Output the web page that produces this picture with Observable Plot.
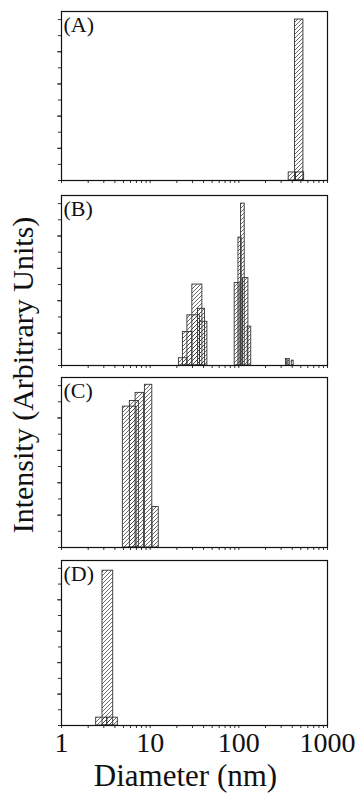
<!DOCTYPE html>
<html>
<head>
<meta charset="utf-8">
<script src="https://cdn.jsdelivr.net/npm/d3@7"></script>
<script src="https://cdn.jsdelivr.net/npm/@observablehq/plot@0.6"></script>
<style>
  html, body { margin: 0; padding: 0; background: #fff; }
  #wrap { position: relative; width: 360px; height: 793px; overflow: hidden; font-family: "Liberation Serif", "Times New Roman", serif; }
  #wrap svg.panel { position: absolute; left: 0; }
  .ylab { position: absolute; left: 23px; top: 375px; transform: translate(-50%, -50%) rotate(-90deg); white-space: nowrap; font-size: 30px; line-height: 30px; color: #111; }
  .xlab { position: absolute; left: 0; width: 371px; top: 763px; text-align: center; font-size: 31px; line-height: 26px; color: #111; }
</style>
</head>
<body>
<div id="wrap">
  <svg width="0" height="0" style="position:absolute">
    <defs>
      <pattern id="hatch" patternUnits="userSpaceOnUse" width="4" height="4">
        <path d="M0,4 L4,0 M-1,1 L1,-1 M3,5 L5,3" stroke="#3a3a3a" stroke-width="0.75"/>
      </pattern>
    </defs>
  </svg>
</div>
<script>
// ---- data (diameter bin edges in nm, intensity in arbitrary units) ----
const panelLabels = ["(A)", "(B)", "(C)", "(D)"];

const aLo  = [365, 440, 431];
const aHi  = [440, 545, 535];
const aVal = [0.5, 0.5, 10.0];

const bLo  = [21.1, 23.4, 26.3, 29.9, 34.6, 36.4, 89.8, 99.0, 106, 111.4, 126, 340, 362, 395];
const bHi  = [26.3, 29.9, 36.4, 38.8, 41.5, 44.2, 102, 107.7, 116.5, 128.2, 138, 352, 375, 415];
const bVal = [0.45, 2.07, 3.1, 5.0, 3.5, 2.7, 5.1, 7.9, 10.0, 5.4, 2.4, 0.4, 0.4, 0.3];

const cLo  = [4.92, 5.9, 6.85, 8.72, 10.6];
const cHi  = [7.03, 7.46, 8.5, 10.57, 12.5];
const cVal = [8.7, 9.05, 9.55, 10.05, 2.5];

const dLo  = [2.46, 3.28, 2.9];
const dHi  = [3.28, 4.32, 3.83];
const dVal = [0.5, 0.5, 9.85];

const xMinorTicks = [1,2,3,4,5,6,7,8,9,10,20,30,40,50,60,70,80,90,100,200,300,400,500,600,700,800,900,1000];
const xTickLabels = [1, 10, 100, 1000];
const yTicks = [0,1,2,3,4,5,6,7,8,9,10];
const yMajorTicks = [2,4,6,8];
const xTitle = "Diameter (nm)";
const yTitle = "Intensity (Arbitrary Units)";

// ---- layout ----
const panelTop = [11, 195, 377, 560];
const panelH   = [169, 170, 170, 165];
const series = [[aLo,aHi,aVal],[bLo,bHi,bVal],[cLo,cHi,cVal],[dLo,dHi,dVal]];

const wrap = document.getElementById("wrap");
series.forEach(([lo, hi, val], i) => {
  const rows = lo.map((l, j) => ({lo: l, hi: hi[j], v: val[j]}));
  const last = i === series.length - 1;
  const mt = 6, mb = last ? 36 : 8;
  const marks = [
    Plot.rectY(rows, {x1: "lo", x2: "hi", y1: 0, y2: "v", fill: "url(#hatch)", stroke: "#333", strokeWidth: 0.9}),
    Plot.axisY({ticks: yTicks, tickSize: 3, tickFormat: () => "", label: null, stroke: "#333"}),
    Plot.axisY({ticks: yMajorTicks, tickSize: 4, tickFormat: () => "", label: null, stroke: "#333"}),
    Plot.axisX({ticks: xMinorTicks, tickSize: 3, tickFormat: () => "", label: null, stroke: "#333"}),
    Plot.frame({stroke: "#111", strokeWidth: 1.2}),
    Plot.text([panelLabels[i]], {frameAnchor: "top-left", dx: 2, dy: 5, lineAnchor: "top", textAnchor: "start", fontSize: 22, fill: "#111"})
  ];
  if (last) {
    marks.push(Plot.axisX({ticks: xTickLabels, tickSize: 0, tickPadding: 7, tickFormat: d => String(d), label: null, fontSize: 28, fill: "#111"}));
  }
  const svg = Plot.plot({
    width: 360,
    height: panelH[i] + mt + mb,
    marginLeft: 61, marginRight: 33, marginTop: mt, marginBottom: mb,
    style: {fontFamily: "Liberation Serif", fontSize: "28px", background: "transparent", overflow: "visible"},
    x: {type: "log", domain: [1, 1000]},
    y: {domain: [0, 10.5]},
    marks
  });
  svg.classList.add("panel");
  svg.style.top = (panelTop[i] - mt) + "px";
  wrap.appendChild(svg);
});

const yl = document.createElement("div");
yl.className = "ylab"; yl.textContent = yTitle; wrap.appendChild(yl);
const xl = document.createElement("div");
xl.className = "xlab"; xl.textContent = xTitle; wrap.appendChild(xl);
</script>
</body>
</html>
